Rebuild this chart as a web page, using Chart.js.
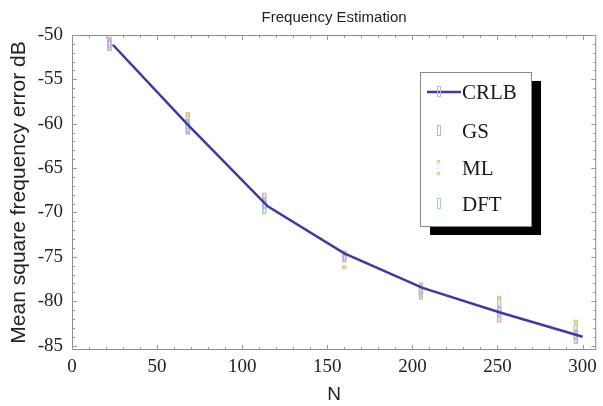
<!DOCTYPE html>
<html>
<head>
<meta charset="utf-8">
<script src="https://cdn.jsdelivr.net/npm/chart.js@4.4.0/dist/chart.umd.min.js"></script>
<style>
  body { margin: 0; background: #fff; }
</style>
</head>
<body>
<canvas id="freqChart" width="603" height="406"></canvas>
<script>
// CRLB curve
const nLine = [24, 68, 115, 160, 206, 252, 300];
const crlbLine = [-51.1, -60.1, -69.3, -74.6, -78.5, -81.3, -84.0];

// error boxes, [top, bottom] in dB
const nBars = [22, 68, 113, 160, 205, 251, 296];
const crlbBars = [[-50.6, -51.8], [-59.6, -61.0], [-68.6, -69.6], [-74.4, -75.3], [-78.2, -79.2], [-80.6, -81.8], [-83.4, -84.4]];
const gsBars = [[-50.3, -51.5], [-59.5, -61.2], [-67.8, -69.5], [-74.8, -75.6], [-78.2, -79.5], [-80.5, -82.4], [-83.2, -84.8]];
const mlBars = [[-50.2, -50.6], [-58.7, -59.3], [-68.5, -69.0], [-76.0, -76.4], [-77.9, -78.3], [-79.4, -79.8], [-82.1, -82.5]];
const dftBars = [[-50.4, -51.2], [-58.9, -60.6], [-68.3, -70.2], [-74.3, -75.6], [-78.0, -79.8], [-79.6, -81.8], [-82.6, -84.2]];

const xTicks = [0, 50, 100, 150, 200, 250, 300];
const yTicks = [-85, -80, -75, -70, -65, -60, -55, -50];

const chartTitle = "Frequency Estimation";
const legendNames = ["CRLB", "GS", "ML", "DFT"];

function boxData(ranges) {
    return ranges.map((r, i) => ({ x: nBars[i], y: r }));
}

function boxSet(label, ranges, color) {
    return {
        type: "bar",
        label: label,
        data: boxData(ranges),
        backgroundColor: "rgba(255,255,255,0)",
        borderColor: color,
        borderWidth: 1,
        borderSkipped: false,
        barThickness: 4,
        grouped: false,
        order: 2
    };
}

const boxColors = ["#b4b4e2", "#e4a6c6", "#d8c68c", "#a6d6a8"];

// frame, minor ticks, title over the plot area and the shadowed legend
const framePlugin = {
    id: "frame",
    beforeDatasetsDraw(chart) {
        const { ctx, chartArea: a, scales } = chart;
        ctx.save();
        ctx.strokeStyle = "#8c8c8c";
        ctx.lineWidth = 1;
        ctx.strokeRect(a.left + 0.5, a.top + 0.5, a.right - a.left - 1, a.bottom - a.top - 1);
        ctx.strokeStyle = "#999";
        for (let v = -85; v <= -50; v++) {
            const y = Math.round(scales.y.getPixelForValue(v)) + 0.5;
            const len = v % 5 === 0 ? 5 : 3;
            ctx.beginPath();
            ctx.moveTo(a.left, y); ctx.lineTo(a.left + len, y);
            ctx.moveTo(a.right, y); ctx.lineTo(a.right - len, y);
            ctx.stroke();
        }
        for (let v = 0; v <= 300; v += 10) {
            const x = Math.round(scales.x.getPixelForValue(v)) + 0.5;
            const len = v % 50 === 0 ? 5 : 3;
            ctx.beginPath();
            ctx.moveTo(x, a.bottom); ctx.lineTo(x, a.bottom - len);
            ctx.moveTo(x, a.top); ctx.lineTo(x, a.top + len);
            ctx.stroke();
        }
        ctx.fillStyle = "#222";
        ctx.font = "15px 'Liberation Sans', Arial, sans-serif";
        ctx.textAlign = "center";
        ctx.textBaseline = "middle";
        ctx.fillText(chartTitle, (a.left + a.right) / 2, 18);
        ctx.restore();
    },
    afterDraw(chart) {
        const ctx = chart.ctx;
        const bx = 420, by = 72, bw = 111, bh = 154;
        ctx.save();
        ctx.fillStyle = "#000";
        ctx.fillRect(bx + 10, by + 9, bw, bh);
        ctx.fillStyle = "#fff";
        ctx.fillRect(bx, by, bw, bh);
        ctx.strokeStyle = "#888";
        ctx.lineWidth = 1;
        ctx.strokeRect(bx + 0.5, by + 0.5, bw, bh);
        ctx.font = "21px 'Liberation Serif', 'Times New Roman', serif";
        ctx.fillStyle = "#1a1a1a";
        ctx.textBaseline = "middle";
        const rows = [92, 131, 168, 204];
        legendNames.forEach((name, i) => {
            const y = rows[i];
            if (i === 0) {
                ctx.strokeStyle = "#3c3c9c";
                ctx.lineWidth = 2.5;
                ctx.beginPath();
                ctx.moveTo(427, y); ctx.lineTo(461, y);
                ctx.stroke();
            }
            ctx.strokeStyle = boxColors[i];
            ctx.lineWidth = 1;
            if (i === 2) {
                ctx.strokeRect(437.5, y - 7.5, 2, 2);
                ctx.strokeRect(437.5, y + 4.5, 2, 2);
            } else {
                ctx.strokeRect(437.5, y - 5.5, 3, 10);
            }
            ctx.fillText(name, 462, y + 1);
        });
        ctx.restore();
    }
};

const ctx = document.getElementById("freqChart").getContext("2d");
new Chart(ctx, {
    type: "bar",
    data: {
        datasets: [
            {
                type: "line",
                label: "CRLB",
                data: nLine.map((n, i) => ({ x: n, y: crlbLine[i] })),
                borderColor: "#3c3c9c",
                borderWidth: 2.5,
                pointRadius: 0,
                tension: 0,
                fill: false,
                order: 1
            },
            boxSet("CRLB box", crlbBars, boxColors[0]),
            boxSet("GS", gsBars, boxColors[1]),
            boxSet("ML", mlBars, boxColors[2]),
            boxSet("DFT", dftBars, boxColors[3])
        ]
    },
    options: {
        responsive: false,
        animation: false,
        layout: { padding: { left: 0, right: 6, top: 35, bottom: 0 } },
        plugins: {
            legend: { display: false },
            tooltip: { enabled: false },
            title: { display: false }
        },
        scales: {
            x: {
                type: "linear",
                min: 0,
                max: 308,
                offset: false,
                afterBuildTicks: s => { s.ticks = xTicks.map(v => ({ value: v })); },
                afterFit: s => { s.height = 56; },
                grid: { display: false, drawTicks: false },
                border: { display: false },
                ticks: {
                    color: "#222",
                    padding: 6,
                    maxRotation: 0,
                    font: { family: "'Liberation Serif', 'Times New Roman', serif", size: 19 }
                },
                title: {
                    display: true,
                    text: "N",
                    color: "#222",
                    padding: { top: 0, bottom: 0 },
                    font: { family: "'Liberation Sans', Arial, sans-serif", size: 19 }
                }
            },
            y: {
                min: -85.5,
                max: -50,
                afterBuildTicks: s => { s.ticks = yTicks.map(v => ({ value: v })); },
                afterFit: s => { s.width = 72; },
                grid: { display: false, drawTicks: false },
                border: { display: false },
                ticks: {
                    color: "#222",
                    padding: 9,
                    font: { family: "'Liberation Serif', 'Times New Roman', serif", size: 19 }
                },
                title: {
                    display: true,
                    text: "Mean square frequency error dB",
                    color: "#222",
                    padding: { top: 7, bottom: 0 },
                    font: { family: "'Liberation Sans', Arial, sans-serif", size: 21 }
                }
            }
        }
    },
    plugins: [framePlugin]
});
</script>
</body>
</html>
